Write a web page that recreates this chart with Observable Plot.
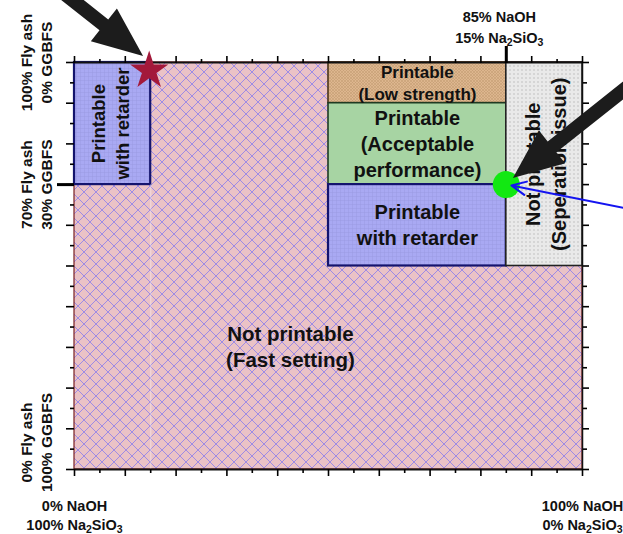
<!DOCTYPE html>
<html>
<head>
<meta charset="utf-8">
<script src="https://cdn.jsdelivr.net/npm/d3@7"></script>
<script src="https://cdn.jsdelivr.net/npm/@observablehq/plot@0.6"></script>
<style>
  body { margin: 0; background: #fff; }
  svg { display: block; }
</style>
</head>
<body>
<div id="chart"></div>
<script>
// Printability map of the geopolymer mix:
// activator ratio (NaOH vs Na2SiO3) across, binder ratio (fly ash vs GGBFS) up.

// Regions of the map (percent NaOH, percent fly ash)
const regionLabels = [
  "Not printable\n(Fast setting)",
  "Printable\nwith retarder",
  "Printable\n(Low strength)",
  "Printable\n(Acceptable\nperformance)",
  "Printable\nwith retarder",
  "Not printable\n(Seperation issue)"
];
const regionNaOHFrom = [0, 0, 50, 50, 50, 85];
const regionNaOHTo = [100, 15, 85, 85, 85, 100];
const regionFlyAshFrom = [0, 70, 90, 70, 50, 50];
const regionFlyAshTo = [100, 100, 100, 90, 70, 100];
// where each region's name sits (percent NaOH, percent fly ash)
const labelNaOH = [42.5, 6.8, 67.5, 67.5, 67.5, 92.5];
const labelFlyAsh = [30.5, 85, 95.3, 80.2, 60.5, 75];

// Highlighted mixes: star and dot
const starNaOH = [14.7];
const starFlyAsh = [98];
const dotNaOH = [85];
const dotFlyAsh = [70];

// Annotation pointers (tail -> tip, percent units)
const pointerFromNaOH = [-2.6, 112.4];
const pointerFromFlyAsh = [117.5, 97.3];
const pointerToNaOH = [13.6, 86.4];
const pointerToFlyAsh = [101.5, 71.5];
const thinPointerFrom = [108.9, 64.1];
const thinPointerTo = [86.0, 69.8];

// Axis ticks and their labels
const majorTicks = [0, 10, 20, 30, 40, 50, 60, 70, 80, 90, 100];
const minorTicks = [5, 15, 25, 35, 45, 55, 65, 75, 85, 95];
const naohTickValues = [0, 100];
const naohTickText = ["0% NaOH\n100% Na2SiO3", "100% NaOH\n0% Na2SiO3"];
const markedNaOH = 85;
const markedNaOHText = "85% NaOH\n15% Na2SiO3";
const flyAshTickValues = [100, 70, 0];
const flyAshTickText = ["100% Fly ash\n0% GGBFS", "70% Fly ash\n30% GGBFS", "0% Fly ash\n100% GGBFS"];

// Styling per region
const regionFill = ["url(#fastHatch)", "url(#retarderGrid)", "url(#lowHatch)", "url(#okFill)", "url(#retarderGrid)", "url(#sepDots)"];
const regionStroke = ["#7a1e22", "#14146e", "#4a3418", "#1f3a22", "#14146e", "#222222"];
const regionStrokeWidth = [1.2, 2.2, 1.6, 1.6, 2.2, 1.6];
const labelSize = [20.5, 18.5, 17, 20, 20, 20];
const labelRotate = [0, -90, 0, 0, 0, -90];

const idx = n => d3.range(n);

// filled block arrows drawn in screen space from the plot's scales
function blockArrows(index, {x, y}) {
  const headLen = 50, headHalf = 21, shaftHalf = 7;
  const g = d3.create("svg:g").attr("fill", "#1c1c1c");
  pointerFromNaOH.forEach((_, i) => {
    const x1 = x(pointerFromNaOH[i]), y1 = y(pointerFromFlyAsh[i]);
    const x2 = x(pointerToNaOH[i]), y2 = y(pointerToFlyAsh[i]);
    const len = Math.hypot(x2 - x1, y2 - y1);
    const ux = (x2 - x1) / len, uy = (y2 - y1) / len;
    const px = -uy, py = ux;
    const bx = x2 - ux * headLen, by = y2 - uy * headLen;
    const pts = [
      [x1 + px * shaftHalf, y1 + py * shaftHalf],
      [bx + px * shaftHalf, by + py * shaftHalf],
      [bx + px * headHalf, by + py * headHalf],
      [x2, y2],
      [bx - px * headHalf, by - py * headHalf],
      [bx - px * shaftHalf, by - py * shaftHalf],
      [x1 - px * shaftHalf, y1 - py * shaftHalf]
    ];
    g.append("path").attr("d", "M" + pts.map(p => p.join(",")).join("L") + "Z");
  });
  return g.node();
}

const bold = {fontWeight: "bold", fill: "#111"};
const tickText = () => "";

const chart = Plot.plot({
  width: 623,
  height: 534,
  marginLeft: 74,
  marginRight: 41,
  marginTop: 62,
  marginBottom: 65,
  x: {domain: [0, 100]},
  y: {domain: [0, 100]},
  color: {type: "identity"},
  style: {fontFamily: "'Liberation Sans', Arial, sans-serif", background: "#fff", overflow: "visible"},
  marks: [
    Plot.rect(idx(regionLabels.length), {
      x1: i => regionNaOHFrom[i], x2: i => regionNaOHTo[i],
      y1: i => regionFlyAshFrom[i], y2: i => regionFlyAshTo[i],
      fill: i => regionFill[i], stroke: i => regionStroke[i], strokeWidth: i => regionStrokeWidth[i]
    }),
    Plot.ruleX([15], {y1: 0, y2: 70, stroke: "#ffffff", strokeOpacity: 0.3, strokeWidth: 1.5}),
    Plot.ruleY([0, 100], {x1: 0, x2: 100, stroke: "#111", strokeWidth: 1.8}),
    Plot.ruleX([100], {y1: 0, y2: 100, stroke: "#111", strokeWidth: 1.5}),

    // ticks on all four sides
    Plot.axisX({anchor: "bottom", ticks: majorTicks, tickSize: 7, tickFormat: tickText, label: null, strokeWidth: 1.6}),
    Plot.axisX({anchor: "bottom", ticks: minorTicks, tickSize: 4, tickFormat: tickText, label: null, strokeWidth: 1.6}),
    Plot.axisX({anchor: "top", ticks: majorTicks, tickSize: 7, tickFormat: tickText, label: null, strokeWidth: 1.6}),
    Plot.axisX({anchor: "top", ticks: minorTicks, tickSize: 4, tickFormat: tickText, label: null, strokeWidth: 1.6}),
    Plot.axisX({anchor: "top", ticks: [markedNaOH], tickSize: 17, tickFormat: tickText, label: null, strokeWidth: 3}),
    Plot.axisY({anchor: "left", ticks: majorTicks, tickSize: 8, tickFormat: tickText, label: null, strokeWidth: 1.6}),
    Plot.axisY({anchor: "left", ticks: minorTicks, tickSize: 4, tickFormat: tickText, label: null, strokeWidth: 1.6}),
    Plot.axisY({anchor: "left", ticks: [70], tickSize: 17, tickFormat: tickText, label: null, strokeWidth: 3}),
    Plot.axisY({anchor: "right", ticks: majorTicks, tickSize: 6, tickFormat: tickText, label: null, strokeWidth: 1.6}),
    Plot.axisY({anchor: "right", ticks: minorTicks, tickSize: 4, tickFormat: tickText, label: null, strokeWidth: 1.6}),

    // region names
    Plot.text(idx(regionLabels.length), {
      x: i => labelNaOH[i], y: i => labelFlyAsh[i], text: i => regionLabels[i],
      fontSize: i => labelSize[i], rotate: i => labelRotate[i], lineHeight: 1.3, ...bold
    }),

    // highlighted mixes
    Plot.dot(idx(starNaOH.length), {x: i => starNaOH[i], y: i => starFlyAsh[i], symbol: "star", r: 12, fill: "#a3193a", stroke: "none"}),
    Plot.dot(idx(dotNaOH.length), {x: i => dotNaOH[i], y: i => dotFlyAsh[i], r: 13.5, fill: "#12e812", stroke: "none"}),
    Plot.arrow([0], {
      x1: () => thinPointerFrom[0], y1: () => thinPointerFrom[1],
      x2: () => thinPointerTo[0], y2: () => thinPointerTo[1],
      stroke: "#1414f0", strokeWidth: 2, headLength: 12, headAngle: 50
    }),
    blockArrows,

    // axis end labels
    Plot.text(idx(naohTickValues.length), {x: i => naohTickValues[i], y: () => 0, text: i => naohTickText[i], dy: 44.5, fontSize: 14.5, lineHeight: 1.32, ...bold}),
    Plot.text([0], {x: () => markedNaOH, y: () => 100, text: () => markedNaOHText, dy: -37, dx: -7, fontSize: 14.5, lineHeight: 1.45, ...bold}),
    Plot.text([0, 1], {x: () => 0, y: i => flyAshTickValues[i], text: i => flyAshTickText[i], dx: -39, rotate: -90, fontSize: 15.5, lineHeight: 1.3, ...bold}),
    Plot.text([2], {x: () => 0, y: i => flyAshTickValues[i], text: i => flyAshTickText[i], dx: -39, dy: -27, rotate: -90, fontSize: 15.5, lineHeight: 1.3, ...bold})
  ]
});

// fill patterns for the regions
const defs = d3.select(chart).insert("defs", ":first-child");
function pattern(id, size, bg) {
  const p = defs.append("pattern").attr("id", id).attr("patternUnits", "userSpaceOnUse")
    .attr("width", size).attr("height", size);
  p.append("rect").attr("width", size).attr("height", size).attr("fill", bg);
  return p;
}
pattern("fastHatch", 12, "#eac2c6")
  .append("path").attr("d", "M-1,-1L13,13M13,-1L-1,13")
  .attr("stroke", "#9a88e6").attr("stroke-width", 0.95).attr("fill", "none");
pattern("retarderGrid", 4, "#a9a9f3")
  .append("path").attr("d", "M0,0.25H4M0.25,0V4")
  .attr("stroke", "#9797dc").attr("stroke-width", 0.5).attr("fill", "none");
pattern("lowHatch", 3, "#ddb68e")
  .append("path").attr("d", "M-0.5,-0.5L3.5,3.5M3.5,-0.5L-0.5,3.5")
  .attr("stroke", "#c59c74").attr("stroke-width", 0.6).attr("fill", "none");
pattern("okFill", 4, "#a7d4a3");
pattern("sepDots", 4, "#e9e9e9")
  .append("circle").attr("cx", 2).attr("cy", 2).attr("r", 0.8).attr("fill", "#bdbdbd");

// chemical formulas with subscript digits
chart.querySelectorAll("text, tspan").forEach(node => {
  if (node.children.length || !node.textContent.includes("Na2SiO3")) return;
  const s = node.textContent;
  const at = s.indexOf("Na2SiO3");
  node.textContent = "";
  const add = (txt, sub) => {
    if (!sub) { node.appendChild(document.createTextNode(txt)); return; }
    const t = document.createElementNS("http://www.w3.org/2000/svg", "tspan");
    t.setAttribute("font-size", "10.5");
    t.setAttribute("baseline-shift", "-3");
    t.textContent = txt;
    node.appendChild(t);
  };
  add(s.slice(0, at) + "Na"); add("2", true); add("SiO"); add("3", true); add(s.slice(at + 7));
});

document.getElementById("chart").appendChild(chart);
</script>
</body>
</html>
